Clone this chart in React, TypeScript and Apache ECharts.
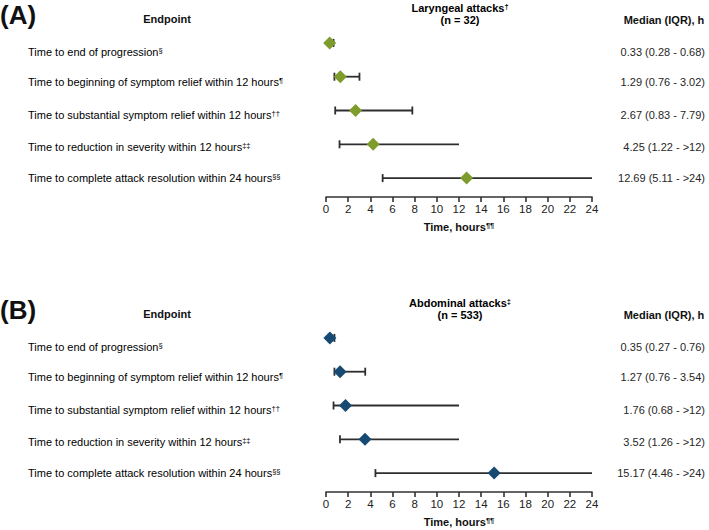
import React, { useEffect, useRef } from "react";
import * as echarts from "echarts";

// ---------- data ----------
const endpoints = [
  "Time to end of progression",
  "Time to beginning of symptom relief within 12 hours",
  "Time to substantial symptom relief within 12 hours",
  "Time to reduction in severity within 12 hours",
  "Time to complete attack resolution within 24 hours",
];
const endpointFootnotes = ["§", "¶", "††", "‡‡", "§§"];

const xMin = 0;
const xMax = 24;
const xInterval = 2;

const laryngealTitle = "Laryngeal attacks";
const laryngealTitleNote = "†";
const laryngealN = 32;
const laryngealMedian = [0.33, 1.29, 2.67, 4.25, 12.69];
const laryngealQ1 = [0.28, 0.76, 0.83, 1.22, 5.11];
const laryngealQ3 = [0.68, 3.02, 7.79, 12, 24];
const laryngealQ3Censored = [false, false, false, true, true];

const abdominalTitle = "Abdominal attacks";
const abdominalTitleNote = "‡";
const abdominalN = 533;
const abdominalMedian = [0.35, 1.27, 1.76, 3.52, 15.17];
const abdominalQ1 = [0.27, 0.76, 0.68, 1.26, 4.46];
const abdominalQ3 = [0.76, 3.54, 12, 12, 24];
const abdominalQ3Censored = [false, false, true, true, true];

// ---------- layout ----------
const FONT = "'Liberation Sans', Arial, Helvetica, sans-serif";
const PANEL_OFFSET = 295;
const GRID_LEFT = 326;
const GRID_WIDTH = 266;
const GRID_TOP = 26;
const GRID_HEIGHT = 169;
const LABEL_Y = [52, 82, 115, 147, 178];

const panels = [
  {
    letter: "(A)",
    title: laryngealTitle,
    note: laryngealTitleNote,
    n: laryngealN,
    median: laryngealMedian,
    q1: laryngealQ1,
    q3: laryngealQ3,
    censored: laryngealQ3Censored,
    color: "#7e9c2c",
  },
  {
    letter: "(B)",
    title: abdominalTitle,
    note: abdominalTitleNote,
    n: abdominalN,
    median: abdominalMedian,
    q1: abdominalQ1,
    q3: abdominalQ3,
    censored: abdominalQ3Censored,
    color: "#174a72",
  },
];

const richBase = {
  a: { fontSize: 11, fontFamily: FONT, color: "#262626" },
  s: { fontSize: 7.5, fontFamily: FONT, color: "#262626", verticalAlign: "top" as const },
  b: { fontSize: 11, fontFamily: FONT, color: "#111", fontWeight: "bold" as const },
  bs: { fontSize: 7.5, fontFamily: FONT, color: "#111", fontWeight: "bold" as const, verticalAlign: "top" as const },
};

function fmtIqr(m: number, lo: number, hi: number, cens: boolean) {
  return `${m.toFixed(2)} (${lo.toFixed(2)} - ${cens ? ">" + hi : hi.toFixed(2)})`;
}

export default function App() {
  const ref = useRef<HTMLDivElement>(null);
  useEffect(() => {
    if (!ref.current) return;
    const chart = echarts.init(ref.current, undefined, { renderer: "svg" });

    const grids: any[] = [];
    const xAxes: any[] = [];
    const yAxes: any[] = [];
    const series: any[] = [];
    const graphics: any[] = [];

    panels.forEach((p, i) => {
      const off = i * PANEL_OFFSET;
      grids.push({ left: GRID_LEFT, width: GRID_WIDTH, top: GRID_TOP + off, height: GRID_HEIGHT });
      xAxes.push({
        gridIndex: i,
        type: "value",
        min: xMin,
        max: xMax,
        interval: xInterval,
        position: "bottom",
        offset: 2,
        axisLine: { show: true, lineStyle: { color: "#333", width: 1.6 } },
        axisTick: { show: true, length: 5, lineStyle: { color: "#333", width: 1.6 } },
        axisLabel: { fontSize: 11.5, color: "#222", fontFamily: FONT, margin: 6 },
        splitLine: { show: false },
        name: "{b|Time, hours}{bs|¶¶}",
        nameLocation: "middle",
        nameGap: 24,
        nameTextStyle: { rich: richBase },
      });
      yAxes.push({
        gridIndex: i,
        type: "category",
        data: endpoints,
        inverse: true,
        show: false,
      });
      series.push({
        type: "custom",
        xAxisIndex: i,
        yAxisIndex: i,
        encode: { x: [0, 1], y: 2 },
        data: p.q1.map((lo, r) => [lo, p.q3[r], r, p.censored[r] ? 1 : 0]),
        renderItem: (params: any, api: any) => {
          const lo = api.coord([api.value(0), api.value(2)]);
          const hi = api.coord([api.value(1), api.value(2)]);
          const cens = api.value(3);
          const h = 4;
          const style = { stroke: "#2e2e2e", lineWidth: 1.8, fill: "none" };
          const children: any[] = [
            { type: "line", shape: { x1: lo[0], y1: lo[1], x2: hi[0], y2: hi[1] }, style },
            { type: "line", shape: { x1: lo[0], y1: lo[1] - h, x2: lo[0], y2: lo[1] + h }, style },
          ];
          if (!cens) {
            children.push({ type: "line", shape: { x1: hi[0], y1: hi[1] - h, x2: hi[0], y2: hi[1] + h }, style });
          }
          return { type: "group", children };
        },
        z: 2,
      });
      series.push({
        type: "scatter",
        xAxisIndex: i,
        yAxisIndex: i,
        symbol: "diamond",
        symbolSize: 13,
        itemStyle: { color: p.color, opacity: 1 },
        data: p.median.map((m, r) => [m, r]),
        z: 3,
      });

      // panel letter
      graphics.push({
        type: "text",
        left: 0,
        top: 2 + off,
        style: { text: p.letter, fontSize: 26, fontWeight: "bold", fontFamily: FONT, fill: "#111" },
      });
      // headers
      graphics.push({
        type: "text",
        x: 167,
        y: 19 + off,
        style: { text: "Endpoint", fontSize: 11, fontWeight: "bold", fontFamily: FONT, fill: "#111", align: "center", verticalAlign: "middle" },
      });
      graphics.push({
        type: "text",
        x: 460,
        y: 14 + off,
        style: {
          text: `{b|${p.title}}{bs|${p.note}}\n{b|(n = ${p.n})}`,
          rich: { b: { ...richBase.b, lineHeight: 12 }, bs: { ...richBase.bs, lineHeight: 12 } },
          align: "center",
          verticalAlign: "middle",
        },
      });
      graphics.push({
        type: "text",
        x: 664,
        y: 20 + off,
        style: { text: "Median (IQR), h", fontSize: 11, fontWeight: "bold", fontFamily: FONT, fill: "#111", align: "center", verticalAlign: "middle" },
      });
      // rows
      endpoints.forEach((e, r) => {
        graphics.push({
          type: "text",
          x: 28,
          y: LABEL_Y[r] + off,
          style: {
            text: `{a|${e}}{s|${endpointFootnotes[r]}}`,
            rich: richBase,
            align: "left",
            verticalAlign: "middle",
          },
        });
        graphics.push({
          type: "text",
          x: 705,
          y: LABEL_Y[r] + off,
          style: {
            text: fmtIqr(p.median[r], p.q1[r], p.q3[r], p.censored[r]),
            fontSize: 11,
            fontFamily: FONT,
            fill: "#262626",
            align: "right",
            verticalAlign: "middle",
          },
        });
      });
    });

    chart.setOption({
      animation: false,
      backgroundColor: "#ffffff",
      grid: grids,
      xAxis: xAxes,
      yAxis: yAxes,
      series,
      graphic: graphics,
    });
    return () => chart.dispose();
  }, []);
  return <div ref={ref} style={{ position: "fixed", left: 0, top: 0, width: 709, height: 530 }} />;
}
